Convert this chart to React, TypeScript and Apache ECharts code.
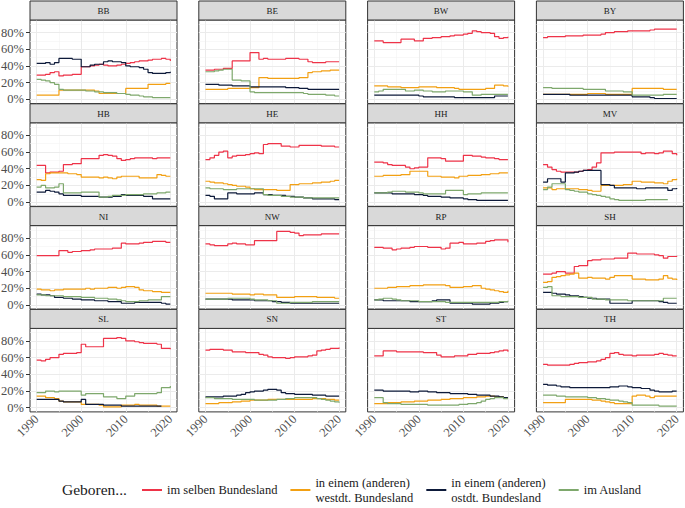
import React, { useEffect, useRef } from 'react';
import * as echarts from 'echarts';

const years = [1990, 1991, 1992, 1993, 1994, 1995, 1996, 1997, 1998, 1999, 2000, 2001, 2002, 2003, 2004, 2005, 2006, 2007, 2008, 2009, 2010, 2011, 2012, 2013, 2014, 2015, 2016, 2017, 2018, 2019, 2020];
const states = ['BB', 'BE', 'BW', 'BY', 'HB', 'HE', 'HH', 'MV', 'NI', 'NW', 'RP', 'SH', 'SL', 'SN', 'ST', 'TH'];
const seriesNames = ['im selben Bundesland', 'in einem (anderen)\nwestdt. Bundesland', 'in einem (anderen)\nostdt. Bundesland', 'im Ausland'];
const seriesColors = ['#EE3348', '#F2A013', '#0D1A3A', '#7EA86C'];
const xTicks = [1990, 2000, 2010, 2020];
const xMinor = [1995, 2005, 2015];
const yTicks = [0, 20, 40, 60, 80];
const yMinor = [10, 30, 50, 70, 90];
const legendTitle = 'Geboren...';

// values in percent, 1990..2020 ; order: selben, west, ost, ausland
const bbSelben = [29, 29, 30, 32, 33, 28, 29, 29, 30, 30, 39, 39, 40, 41, 42, 41, 40, 40, 41, 42, 43, 44, 45, 46, 46, 47, 48, 48, 49, 48, 46];
const bbWest = [5, 5, 5, 5, 5, 11, 11, 11, 11, 11, 11, 11, 11, 10, 7, 7, 7, 7, 7, 7, 13, 13, 13, 13, 13, 18, 18, 18, 18, 19, 19];
const bbOst = [43, 43, 44, 42, 44, 49, 49, 49, 48, 48, 39, 39, 41, 42, 42, 45, 46, 45, 45, 44, 40, 39, 39, 38, 36, 32, 31, 31, 31, 32, 33];
const bbAusland = [24, 23, 22, 20, 18, 12, 11, 11, 11, 11, 11, 10, 10, 9, 9, 8, 8, 8, 7, 7, 6, 5, 5, 4, 3, 3, 2, 2, 2, 2, 2];

const beSelben = [35, 35, 36, 36, 37, 37, 46, 46, 46, 46, 56, 56, 48, 49, 48, 48, 48, 48, 49, 49, 49, 48, 48, 45, 44, 44, 44, 45, 45, 45, 45];
const beWest = [12, 12, 12, 12, 12, 13, 13, 13, 13, 13, 14, 14, 26, 26, 25, 25, 25, 25, 25, 25, 25, 26, 26, 32, 33, 33, 34, 34, 35, 35, 35];
const beOst = [18, 18, 18, 17, 17, 17, 16, 16, 16, 16, 15, 15, 15, 15, 15, 15, 15, 15, 14, 14, 14, 13, 13, 12, 12, 12, 12, 12, 12, 12, 12];
const beAusland = [33, 33, 34, 35, 36, 36, 23, 23, 22, 22, 9, 8, 8, 8, 8, 8, 8, 8, 8, 8, 8, 8, 7, 6, 6, 6, 6, 5, 5, 4, 4];

const bwSelben = [70, 70, 68, 68, 68, 68, 72, 72, 72, 70, 70, 73, 73, 74, 74, 75, 75, 76, 77, 77, 78, 79, 82, 81, 80, 80, 79, 75, 73, 74, 75];
const bwWest = [16, 16, 16, 15, 15, 15, 14, 14, 14, 14, 15, 15, 15, 15, 14, 14, 14, 14, 13, 12, 12, 12, 12, 12, 12, 13, 13, 17, 17, 16, 15];
const bwOst = [5, 5, 5, 5, 5, 5, 5, 5, 5, 5, 4, 3, 3, 3, 3, 3, 3, 3, 2, 2, 2, 2, 2, 2, 2, 2, 2, 4, 4, 4, 4];
const bwAusland = [9, 10, 12, 12, 12, 12, 12, 10, 10, 11, 11, 10, 10, 9, 9, 9, 10, 10, 10, 10, 9, 9, 5, 5, 6, 6, 6, 6, 6, 6, 6];

const bySelben = [74, 75, 75, 75, 75, 76, 76, 76, 76, 77, 77, 77, 77, 78, 80, 80, 81, 81, 81, 82, 82, 82, 82, 82, 83, 84, 84, 84, 84, 84, 84];
const byWest = [6, 6, 6, 6, 6, 6, 6, 6, 6, 6, 7, 7, 7, 7, 6, 6, 6, 6, 6, 6, 13, 13, 13, 13, 13, 13, 13, 12, 12, 12, 12];
const byOst = [6, 6, 6, 6, 6, 6, 5, 5, 5, 5, 5, 5, 5, 5, 5, 5, 5, 5, 5, 5, 3, 3, 3, 3, 2, 1, 1, 1, 1, 1, 1];
const byAusland = [14, 14, 13, 13, 13, 13, 13, 13, 13, 12, 12, 12, 12, 12, 10, 10, 10, 10, 9, 9, 5, 5, 5, 5, 5, 5, 5, 6, 6, 6, 6];

const hbSelben = [44, 44, 35, 36, 36, 37, 45, 45, 46, 46, 52, 52, 52, 52, 56, 57, 56, 55, 52, 50, 51, 52, 53, 53, 53, 53, 52, 53, 53, 53, 53];
const hbWest = [27, 26, 34, 35, 35, 35, 35, 34, 34, 33, 30, 30, 30, 30, 29, 30, 29, 28, 30, 31, 31, 31, 31, 29, 29, 29, 29, 33, 32, 31, 31];
const hbOst = [12, 12, 14, 13, 12, 10, 8, 8, 8, 8, 7, 7, 7, 7, 6, 6, 6, 7, 7, 9, 8, 8, 8, 8, 7, 7, 4, 4, 4, 4, 4];
const hbAusland = [18, 20, 17, 17, 18, 22, 11, 11, 11, 11, 12, 12, 12, 12, 6, 6, 7, 8, 8, 8, 9, 9, 9, 9, 10, 10, 10, 11, 11, 12, 12];

const heSelben = [51, 53, 56, 60, 61, 53, 55, 56, 56, 57, 58, 59, 58, 69, 70, 70, 70, 67, 67, 66, 66, 68, 68, 68, 68, 68, 67, 67, 67, 66, 66];
const heWest = [25, 24, 23, 23, 22, 21, 20, 19, 19, 18, 16, 15, 15, 15, 15, 15, 14, 14, 14, 21, 21, 22, 22, 22, 23, 23, 24, 24, 25, 26, 26];
const heOst = [8, 7, 4, 4, 4, 11, 11, 10, 10, 10, 10, 11, 11, 9, 9, 8, 8, 8, 7, 7, 6, 6, 5, 5, 4, 4, 4, 4, 4, 3, 3];
const heAusland = [17, 16, 16, 16, 15, 15, 15, 16, 16, 16, 16, 16, 16, 9, 8, 8, 8, 7, 7, 6, 6, 6, 5, 5, 5, 5, 5, 5, 5, 5, 5];

const hhSelben = [48, 48, 47, 45, 44, 44, 44, 42, 40, 41, 42, 42, 53, 53, 53, 52, 49, 49, 49, 49, 56, 56, 55, 55, 54, 53, 53, 52, 51, 51, 51];
const hhWest = [31, 31, 32, 32, 32, 32, 33, 33, 37, 37, 37, 37, 31, 31, 31, 30, 30, 30, 29, 31, 31, 32, 32, 32, 33, 33, 34, 34, 35, 35, 35];
const hhOst = [11, 11, 11, 11, 10, 10, 10, 10, 10, 9, 9, 8, 7, 7, 7, 6, 6, 5, 5, 5, 4, 3, 3, 2, 2, 2, 2, 2, 2, 2, 2];
const hhAusland = [11, 11, 11, 12, 13, 13, 13, 12, 12, 12, 11, 10, 10, 10, 10, 10, 14, 14, 14, 14, 9, 10, 10, 10, 11, 11, 11, 11, 11, 11, 11];

const mvSelben = [45, 42, 39, 37, 36, 36, 36, 36, 37, 38, 39, 42, 47, 59, 59, 59, 60, 60, 60, 60, 60, 60, 58, 59, 59, 58, 59, 61, 61, 58, 56];
const mvWest = [17, 17, 15, 16, 16, 16, 16, 16, 15, 15, 14, 13, 13, 20, 20, 20, 20, 20, 21, 21, 25, 25, 24, 24, 24, 23, 23, 22, 25, 27, 28];
const mvOst = [24, 28, 28, 28, 24, 35, 35, 36, 37, 38, 38, 38, 38, 21, 21, 20, 17, 17, 17, 17, 17, 16, 16, 17, 17, 17, 17, 17, 14, 16, 17];
const mvAusland = [15, 18, 22, 22, 22, 15, 14, 13, 12, 12, 10, 9, 8, 7, 6, 4, 3, 2, 2, 2, 2, 2, 2, 3, 3, 3, 3, 3, null, null, null];

const niSelben = [59, 59, 59, 59, 59, 65, 65, 63, 64, 64, 65, 65, 66, 67, 67, 67, 67, 68, 68, 74, 73, 73, 73, 74, 75, 75, 76, 76, 76, 75, 75];
const niWest = [19, 18, 18, 17, 18, 18, 19, 19, 19, 19, 19, 20, 19, 20, 20, 20, 21, 21, 20, 21, 22, 22, 21, 18, 17, 17, 16, 16, 15, 15, 15];
const niOst = [13, 12, 12, 11, 9, 9, 8, 8, 7, 7, 6, 6, 6, 5, 5, 5, 4, 4, 4, 2, 2, 2, 3, 3, 3, 3, 3, 3, 2, 1, 1];
const niAusland = [12, 12, 11, 11, 11, 11, 10, 10, 10, 10, 9, 9, 9, 8, 8, 8, 7, 7, 6, 5, 4, 4, 4, 5, 5, 6, 6, 6, 10, 10, 10];

const nwSelben = [73, 72, 71, 71, 71, 73, 74, 73, 73, 72, 72, 77, 77, 77, 77, 77, 88, 88, 88, 87, 86, 83, 84, 84, 84, 84, 85, 85, 85, 85, 85];
const nwWest = [14, 14, 14, 14, 14, 14, 13, 13, 13, 13, 12, 13, 13, 12, 12, 12, 9, 9, 9, 9, 10, 10, 10, 10, 10, 9, 9, 9, 9, 8, 8];
const nwOst = [7, 7, 7, 7, 7, 7, 6, 6, 6, 6, 6, 5, 5, 5, 5, 4, 4, 3, 3, 2, 2, 2, 2, 2, 2, 2, 2, 2, 2, 2, 2];
const nwAusland = [7, 7, 7, 7, 7, 8, 8, 8, 8, 8, 7, 6, 6, 6, 5, 5, 2, 2, 2, 3, 3, 3, 3, 3, 4, 4, 4, 4, 4, 4, 4];

const rpSelben = [69, 69, 68, 68, 66, 67, 68, 68, 69, 70, 70, 70, 69, 69, 69, 67, 68, 74, 74, 75, 73, 73, 73, 74, 74, 76, 77, 78, 78, 78, 75];
const rpWest = [20, 20, 20, 21, 21, 22, 22, 22, 23, 23, 23, 24, 24, 24, 24, 24, 23, 21, 21, 21, 22, 22, 23, 23, 20, 19, 18, 17, 16, 15, 17];
const rpOst = [6, 6, 5, 5, 5, 5, 5, 5, 4, 4, 4, 4, 4, 5, 6, 6, 6, 2, 2, 2, 2, 2, 1, 1, 1, 1, 2, 2, 3, 4, 4];
const rpAusland = [6, 7, 8, 8, 7, 6, 5, 5, 5, 5, 4, 4, 4, 4, 4, 4, 3, 3, 3, 3, 3, 3, 3, 3, 3, 3, 3, 3, 4, 4, 5];

const shSelben = [37, 37, 38, 40, 40, 38, 38, 46, 47, 47, 53, 54, 54, 55, 55, 55, 56, 56, 56, 62, 62, 61, 61, 61, 61, 60, 59, 56, 58, 58, 59];
const shWest = [27, 28, 33, 34, 35, 36, 37, 38, 32, 32, 33, 32, 32, 32, 31, 33, 35, 35, 35, 35, 31, 31, 31, 30, 30, 30, 31, 35, 32, 31, 30];
const shOst = [15, 15, 14, 13, 13, 12, 11, 11, 10, 9, 8, 8, 7, 7, 7, 2, 2, 2, 2, 2, 5, 5, 5, 5, 5, 5, 4, 3, 2, 2, 2];
const shAusland = [21, 22, 11, 11, 10, 10, 10, 10, 9, 9, 9, 7, 7, 7, 6, 6, 6, 6, 6, 5, 5, 5, 5, 5, 5, 5, 5, 8, 8, 8, 8];

const slSelben = [57, 56, 58, 60, 60, 64, 65, 65, 65, 66, 76, 73, 73, 73, 73, 83, 83, 83, 84, 83, 80, 80, 79, 78, 77, 77, 77, 76, 71, 71, 70];
const slWest = [14, 14, 12, 12, 11, 8, 7, 7, 7, 7, 4, 4, 4, 4, 3, 1, 1, 1, 1, 3, 3, 3, 4, 3, 3, 3, 3, 2, 2, 2, 2];
const slOst = [10, 10, 10, 10, 10, 8, 7, 7, 7, 7, 10, 4, 4, 4, 4, 3, 3, 3, 3, 2, 2, 2, 2, 2, 2, 2, 2, 2, null, null, null];
const slAusland = [18, 18, 20, 20, 19, 20, 20, 20, 20, 20, 15, 17, 17, 17, 17, 13, 13, 13, 11, 11, 14, 14, 17, 17, 17, 17, 17, 18, 24, 24, 26];

const snSelben = [69, 70, 70, 70, 69, 69, 67, 67, 67, 66, 66, 66, 64, 63, 61, 60, 60, 60, 59, 60, 61, 61, 61, 62, 63, 68, 69, 70, 71, 71, 72];
const snWest = [5, 5, 5, 6, 6, 6, 7, 7, 8, 8, 9, 9, 9, 9, 10, 10, 10, 10, 10, 10, 10, 10, 10, 10, 11, 11, 11, 10, 10, 9, 9];
const snOst = [13, 13, 13, 13, 14, 14, 14, 15, 16, 18, 19, 20, 20, 21, 22, 22, 21, 18, 17, 17, 16, 16, 16, 16, 15, 15, 15, 14, 14, 14, 14];
const snAusland = [12, 12, 11, 11, 11, 11, 10, 10, 10, 10, 10, 9, 9, 9, 9, 9, 10, 10, 11, 11, 12, 12, 12, 12, 12, 11, 10, 9, 8, 7, 6];

const stSelben = [62, 62, 68, 68, 68, 67, 67, 67, 67, 67, 67, 66, 66, 66, 63, 61, 61, 61, 62, 62, 62, 64, 64, 65, 65, 65, 66, 67, 68, 69, 67];
const stWest = [5, 5, 5, 6, 6, 6, 7, 7, 7, 8, 8, 8, 9, 9, 9, 10, 10, 11, 11, 11, 12, 12, 12, 13, 13, 14, 14, 13, 13, 12, 12];
const stOst = [21, 21, 20, 20, 20, 20, 20, 20, 19, 19, 20, 20, 19, 19, 18, 18, 18, 17, 17, 17, 17, 16, 16, 15, 15, 15, 14, 14, 13, 12, 12];
const stAusland = [12, 12, 6, 5, 5, 5, 4, 4, 4, 4, 4, 4, 3, 3, 3, 3, 3, 3, 3, 4, 4, 5, 5, 6, 8, 10, 11, 12, 12, 11, 11];

const thSelben = [52, 51, 51, 51, 51, 51, 52, 53, 54, 54, 55, 55, 56, 58, 60, 65, 66, 64, 63, 63, 62, 63, 63, 63, 63, 64, 65, 64, 63, 62, 62];
const thWest = [6, 6, 6, 6, 6, 10, 10, 10, 10, 10, 10, 9, 9, 8, 7, 6, 5, 5, 5, 5, 14, 15, 15, 14, 12, 14, 14, 14, 14, 14, 14];
const thOst = [28, 27, 27, 26, 25, 25, 24, 24, 24, 24, 24, 24, 24, 24, 24, 25, 25, 26, 26, 25, 24, 24, 23, 23, 21, 20, 19, 19, 19, 20, 20];
const thAusland = [15, 15, 15, 14, 14, 13, 13, 13, 13, 13, 12, 12, 11, 11, 10, 9, 9, 8, 7, 6, 3, 3, 3, 3, 3, 3, 2, 2, 2, 2, 2];

const stateData = [
  [bbSelben, bbWest, bbOst, bbAusland],
  [beSelben, beWest, beOst, beAusland],
  [bwSelben, bwWest, bwOst, bwAusland],
  [bySelben, byWest, byOst, byAusland],
  [hbSelben, hbWest, hbOst, hbAusland],
  [heSelben, heWest, heOst, heAusland],
  [hhSelben, hhWest, hhOst, hhAusland],
  [mvSelben, mvWest, mvOst, mvAusland],
  [niSelben, niWest, niOst, niAusland],
  [nwSelben, nwWest, nwOst, nwAusland],
  [rpSelben, rpWest, rpOst, rpAusland],
  [shSelben, shWest, shOst, shAusland],
  [slSelben, slWest, slOst, slAusland],
  [snSelben, snWest, snOst, snAusland],
  [stSelben, stWest, stOst, stAusland],
  [thSelben, thWest, thOst, thAusland],
];

const FONT = 'Liberation Serif';
const LEFT0 = 30;
const STEP_X = 168.8;
const PANEL_W = 147;
const TOP0 = 1;
const STEP_Y = 102.8;
const STRIP_H = 19;
const PLOT_H = 83.5;
const NCOL = 4;

function buildOption() {
  const grids: any[] = [];
  const xAxes: any[] = [];
  const yAxes: any[] = [];
  const series: any[] = [];
  const graphics: any[] = [];

  states.forEach((st, i) => {
    const r = Math.floor(i / NCOL);
    const c = i % NCOL;
    const left = LEFT0 + c * STEP_X;
    const rowTop = TOP0 + r * STEP_Y;
    const isBottom = r === 3;
    const isLeft = c === 0;

    grids.push({
      left, top: rowTop + STRIP_H, width: PANEL_W, height: PLOT_H,
      show: true, borderColor: '#333333', borderWidth: 1, backgroundColor: '#ffffff',
      containLabel: false, outerBoundsMode: 'none',
    });
    xAxes.push({
      type: 'value', gridIndex: i, min: 1988.5, max: 2021.5,
      axisLine: { show: false }, splitLine: { show: false },
      axisTick: { show: isBottom, customValues: xTicks, length: 4, lineStyle: { color: '#333333', width: 1 } },
      axisLabel: {
        show: isBottom, customValues: xTicks, rotate: 45, margin: 5,
        formatter: (v: number) => String(v),
        fontFamily: FONT, fontSize: 12.5, color: '#4D4D4D',
      },
    });
    yAxes.push({
      type: 'value', gridIndex: i, min: -5, max: 95,
      axisLine: { show: false }, splitLine: { show: false },
      axisTick: { show: isLeft, customValues: yTicks, length: 4, lineStyle: { color: '#333333', width: 1 } },
      axisLabel: {
        show: isLeft, customValues: yTicks, formatter: (v: number) => v + '%', margin: 6,
        fontFamily: FONT, fontSize: 12.5, color: '#4D4D4D',
      },
    });

    const major = { color: '#EBEBEB', width: 1, type: 'solid' };
    const minor = { color: '#F3F3F3', width: 0.6, type: 'solid' };
    series.push({
      type: 'line', name: 'gridlines', xAxisIndex: i, yAxisIndex: i, data: [], silent: true,
      markLine: {
        silent: true, symbol: ['none', 'none'], label: { show: false }, z: 1,
        emphasis: { disabled: true }, animation: false,
        data: [
          ...xMinor.map((v) => ({ xAxis: v, lineStyle: minor })),
          ...yMinor.map((v) => ({ yAxis: v, lineStyle: minor })),
          ...xTicks.map((v) => ({ xAxis: v, lineStyle: major })),
          ...yTicks.map((v) => ({ yAxis: v, lineStyle: major })),
        ],
      },
    });

    stateData[i].forEach((vals, k) => {
      series.push({
        type: 'line', name: seriesNames[k], xAxisIndex: i, yAxisIndex: i,
        step: 'end', showSymbol: false, symbol: 'none', z: 3,
        lineStyle: { color: seriesColors[k], width: 1.2 },
        itemStyle: { color: seriesColors[k] },
        emphasis: { disabled: true },
        data: years.map((y, j) => [y, vals[j]]),
      });
    });

    graphics.push({
      type: 'rect',
      shape: { x: left, y: rowTop, width: PANEL_W, height: STRIP_H },
      style: { fill: '#D9D9D9', stroke: '#333333', lineWidth: 1 },
      z: 10,
    });
    graphics.push({
      type: 'text', x: left + PANEL_W / 2, y: rowTop + STRIP_H / 2 + 0.5,
      style: { text: st, fontFamily: FONT, fontSize: 9, fill: '#1A1A1A', align: 'center', verticalAlign: 'middle' },
      z: 11,
    });
  });

  graphics.push({
    type: 'text', x: 62, y: 489,
    style: { text: legendTitle, fontFamily: FONT, fontSize: 15.5, fill: '#1A1A1A', align: 'left', verticalAlign: 'middle' },
  });

  return {
    animation: false,
    backgroundColor: '#ffffff',
    textStyle: { fontFamily: FONT },
    grid: grids,
    xAxis: xAxes,
    yAxis: yAxes,
    series,
    graphic: graphics,
    legend: {
      data: seriesNames, left: 137, top: 470, orient: 'horizontal',
      icon: 'rect', itemWidth: 20, itemHeight: 2, itemGap: 13, selectedMode: false,
      textStyle: { fontFamily: FONT, fontSize: 12.5, color: '#1A1A1A', lineHeight: 15 },
    },
  };
}

export default function App() {
  const ref = useRef<HTMLDivElement>(null);
  useEffect(() => {
    if (!ref.current) return;
    const chart = echarts.init(ref.current, undefined, { renderer: 'svg' });
    chart.setOption(buildOption() as any);
    return () => chart.dispose();
  }, []);
  return <div ref={ref} style={{ position: 'fixed', left: 0, top: 0, width: 685, height: 508 }} />;
}
